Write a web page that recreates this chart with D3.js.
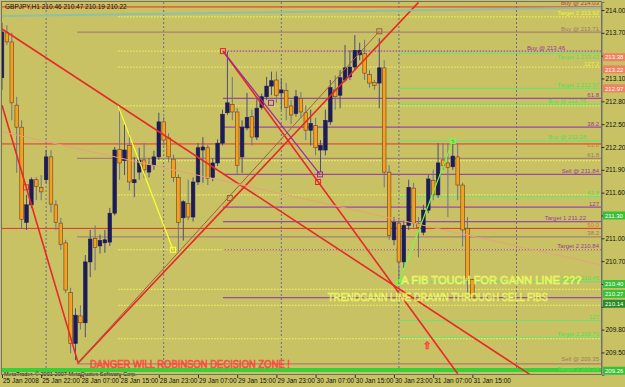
<!DOCTYPE html>
<html>
<head>
<meta charset="utf-8">
<script src="https://cdn.jsdelivr.net/npm/d3@7"></script>
<style>
  body { margin: 0; background: #c8c264; }
  svg text { font-family: "Liberation Sans", Arial, sans-serif; }
</style>
</head>
<body>
<div id="chart"></div>
<script>
var width = 625, height = 387;
var plot = {left: 2, right: 602, top: 2, bottom: 375};

// ---- candles (H1 bars, GBPJPY) ----
var opens  = [213.11,213.70,213.58,212.75,212.46,211.21,211.44,211.77,211.67,211.77,212.07,211.44,211.20,210.94,210.29,209.62,209.98,209.89,210.69,211.00,210.90,210.94,210.95,211.33,212.17,212.02,212.22,211.73,211.87,212.03,211.87,211.96,212.07,212.53,212.32,212.04,211.80,211.27,211.46,211.28,211.74,212.16,212.19,211.80,211.99,212.25,212.65,212.76,212.66,212.07,212.45,212.60,212.33,212.72,212.86,213.00,213.08,212.91,212.94,212.74,212.64,212.84,212.65,212.42,212.48,212.16,212.16,212.53,212.95,212.88,213.08,213.12,213.25,213.41,213.43,213.15,213.05,213.04,213.24,211.87,210.98,211.20,210.69,211.17,211.66,211.19,211.08,211.37,211.76,211.57,212.03,211.99,211.94,212.07,211.70,211.13,210.46];
var highs  = [213.83,213.80,213.70,212.86,212.55,211.57,211.80,211.80,211.83,212.16,212.16,211.50,211.27,210.98,210.35,210.08,210.12,210.78,211.11,211.17,211.05,211.11,211.40,212.20,212.72,212.49,212.38,212.07,212.19,212.25,212.05,212.15,212.65,212.59,212.38,212.10,211.84,211.50,211.77,211.80,212.25,212.33,212.23,212.05,212.30,212.69,213.45,213.12,212.71,212.55,212.91,212.69,212.86,212.90,213.12,213.19,213.19,213.10,213.04,212.82,212.95,212.92,212.75,212.69,212.58,212.29,212.69,213.08,213.14,213.21,213.54,213.47,213.67,213.57,213.61,213.21,213.08,213.63,213.34,211.96,211.28,211.27,211.24,211.77,211.73,211.28,211.44,211.83,211.90,212.25,212.25,212.25,212.29,212.25,211.73,211.28,210.47];
var lows   = [212.95,213.54,212.55,211.86,211.13,211.11,211.40,211.50,211.50,211.72,211.34,211.11,210.85,210.28,209.49,209.40,209.80,209.70,210.49,210.58,210.80,210.81,210.90,211.30,211.77,211.83,211.63,211.54,211.77,211.79,211.80,211.90,212.03,212.22,212.00,211.74,210.83,210.97,211.24,211.22,211.70,211.73,211.70,211.75,211.95,212.22,212.62,212.55,211.83,211.86,212.42,212.22,212.29,212.69,212.82,212.88,212.78,212.69,212.55,212.50,212.60,212.58,212.29,212.22,212.09,211.87,212.09,212.49,212.69,212.71,213.05,213.08,213.21,213.34,213.08,212.98,212.95,212.71,211.67,210.98,210.91,210.43,210.61,211.11,211.14,210.75,211.04,211.33,211.50,211.53,211.90,211.28,211.90,211.50,210.89,210.28,210.19];
var closes = [213.71,213.58,212.78,212.46,211.25,211.44,211.77,211.68,211.61,212.07,211.45,211.21,210.92,210.32,209.62,209.99,209.89,210.69,210.99,210.88,210.97,210.98,211.33,212.16,211.99,212.16,211.74,211.77,212.03,211.90,211.96,212.07,212.53,212.29,212.07,211.80,211.21,211.48,211.28,211.74,212.19,212.20,211.79,211.99,212.25,212.63,212.78,212.66,211.96,212.46,212.59,212.33,212.71,212.86,213.00,213.07,212.88,212.95,212.72,212.62,212.86,212.66,212.42,212.51,212.19,212.22,212.55,212.98,212.86,213.11,213.24,213.25,213.47,213.47,213.17,213.04,213.01,213.24,211.87,211.04,211.21,210.69,211.17,211.67,211.20,211.14,211.37,211.78,211.57,211.99,211.96,211.93,212.08,211.70,211.11,210.46,210.22];

// ---- axes ----
var priceTicks = [214.00,213.70,213.40,213.10,212.80,212.50,212.20,211.90,211.60,211.30,211.00,210.70,210.40,210.10,209.80,209.50];
var timeTickBars = [0,8,16,24,32,40,48,56,64,72,80,88,96];
var timeLabels = ["25 Jan 2008","25 Jan 22:00","28 Jan 07:00","28 Jan 15:00","28 Jan 23:00","29 Jan 07:00","29 Jan 15:00","29 Jan 23:00","30 Jan 07:00","30 Jan 15:00","30 Jan 23:00","31 Jan 07:00","31 Jan 15:00"];
var daySeparators = [9,33,57,81,105];

// ---- drawn objects ----
var redLevels = [214.04, 212.24, 211.13];
var yellowFib = [213.91,213.46,213.25,212.74,212.02,211.57,210.85,210.33,210.12,209.68];
var purpleFib = [213.46,212.84,212.46,211.84,211.41,211.22,210.85,210.22];
var brownFib  = [213.71,212.05,211.02,209.35];
var greenFib  = [213.43,212.97,212.76,212.28,211.55,210.43,209.92,209.70];
var fibStartBar = {yellow: 23.7, purple: 45.1, brown: 15.3, green: 81};

var trendLines = [
  {from: [0, 213.75], to: [108, 209.20], color: "#e82828", w: 1.6},
  {from: [0, 212.75], to: [15.5, 209.37], color: "#e82828", w: 1.6},
  {from: [15.5, 209.36], to: [85, 214.10], color: "#e82828", w: 1.6},
  {from: [45.1, 213.46], to: [93, 209.22], color: "#e82828", w: 1.6},
  {from: [15.3, 209.35], to: [77, 213.72], color: "#a0603a", w: 1},
  {from: [45.1, 213.46], to: [64.9, 211.84], color: "#9a2aa0", w: 1.2},
  {from: [23.7, 212.74], to: [34.9, 210.85], color: "#ffff30", w: 1.2},
  {from: [81, 210.42], to: [92, 212.28], color: "#70ff40", w: 1.2},
  {from: [0, 213.92], to: [122.4, 214.03], color: "#8cc0a8", w: 2},
  {from: [0, 212.40], to: [122.4, 210.65], color: "#e8a080", w: 1}
];
var anchorBars   = [4.9, 46.5, 77, 64.5, 45.1, 54.9, 64.9, 34.9, 81, 92];
var anchorPrices = [211.67, 211.53, 213.72, 211.74, 213.46, 212.78, 211.84, 210.85, 210.42, 212.28];
var anchorColors = ["#e82828","#a0603a","#a0603a","#e82828","#e82828","#9a2aa0","#9a2aa0","#ffff30","#70ff40","#70ff40"];

var levelLabelPrices = [214.04,213.91,213.71,213.46,213.43,213.25,212.97,212.84,212.76,212.46,212.28,212.24,212.05,211.84,211.55,211.41,211.22,211.13,211.02,210.85,210.43,209.92,209.70,209.35,209.27];
var levelLabelTexts  = ["Buy @ 214.03","Target 2  213.92","Buy @ 213.71","Buy @ 213.46","Target 1  213.43","127.2","Target 3  212.97","61.8","Buy @ 212.76","38.2","Buy @ 212.28","61.8","61.8","Sell @ 211.84","61.8","127","Target 1  211.22","50.0","38.2","Target 2  210.84","Sell @ 210.45","127","Target 2  209.70","Sell @ 209.35","Target 3  209.28"];
var levelLabelColors = ["#c03838","#f0f040","#a07868","#9a3a9a","#50e050","#f0f040","#50e050","#9a3a9a","#50e050","#9a3a9a","#50e050","#e07030","#a07868","#9a3a9a","#50e050","#9a3a9a","#9a3a9a","#e07030","#a07868","#9a3a9a","#50e050","#50e050","#50e050","#a07868","#50e050"];
var levelLabelDx = [0,0,0,-34,0,0,0,0,-13,0,-13,0,0,0,0,0,-13,0,0,0,0,0,0,0,0];
var levelLabelDy = [-1.5,-1.5,-1.5,-1.5,5.5,-1.5,-1.5,-1.5,-1.5,-1.5,-1.5,3,-1.5,-1.5,-1.5,-1.5,-1.5,-1.5,-1.5,-1.5,-1.5,-1.5,-1.5,-2.5,1.5];

var boxPrices = [213.38, 213.22, 212.97, 211.30, 210.40, 210.27, 210.14, 209.26];
var boxColors = ["#f08060","#f08060","#f08060","#38c038","#38c038","#38c038","#2a8a2a","#38c038"];

// ---- scales ----
var x = d3.scaleLinear().domain([0, 122.45]).range([plot.left, plot.right]);
var y = d3.scaleLinear().domain([209.204, 214.105]).range([plot.bottom, plot.top]);

var svg = d3.select("#chart").append("svg")
    .attr("width", width).attr("height", height);

svg.append("rect").attr("width", width).attr("height", height).attr("fill", "#c8c264");

svg.append("clipPath").attr("id", "clip")
  .append("rect")
    .attr("x", plot.left).attr("y", plot.top)
    .attr("width", plot.right - plot.left).attr("height", plot.bottom - plot.top);

var g = svg.append("g").attr("clip-path", "url(#clip)");

// day separators
g.selectAll(".sep").data(daySeparators).enter().append("line")
    .attr("x1", function (d) { return x(d); }).attr("x2", function (d) { return x(d); })
    .attr("y1", plot.top).attr("y2", plot.bottom)
    .attr("stroke", "#6a6a96").attr("stroke-dasharray", "2,2");

// horizontal levels
function levels(prices, startBar, color, dash, w) {
    g.append("g").selectAll("line").data(prices).enter().append("line")
        .attr("x1", x(startBar)).attr("x2", plot.right)
        .attr("y1", function (d) { return y(d); }).attr("y2", function (d) { return y(d); })
        .attr("stroke", color).attr("stroke-width", w || 1)
        .attr("stroke-dasharray", dash || null);
}
levels(brownFib, fibStartBar.brown, "#a88070", null, 1.2);
levels(purpleFib, fibStartBar.purple, "#9a4aa0", null, 1.2);
levels(greenFib, fibStartBar.green, "#70e070", null, 1.2);
levels(yellowFib, fibStartBar.yellow, "#f8f860", "1.5,1.5", 1);
levels(redLevels, 0, "#e83030", null, 1);

// bottom band
g.append("line")
    .attr("x1", plot.left).attr("x2", plot.right)
    .attr("y1", y(209.27)).attr("y2", y(209.27))
    .attr("stroke", "#38d038").attr("stroke-width", 4);

// candles
var idx = d3.range(opens.length);
g.selectAll(".wick").data(idx).enter().append("line")
    .attr("x1", function (i) { return x(i); }).attr("x2", function (i) { return x(i); })
    .attr("y1", function (i) { return y(highs[i]); }).attr("y2", function (i) { return y(lows[i]); })
    .attr("stroke", function (i) { return closes[i] >= opens[i] ? "#4c4c80" : "#707090"; })
    .attr("stroke-width", 1);
g.selectAll(".body").data(idx).enter().append("rect")
    .attr("x", function (i) { return x(i) - 1.8; })
    .attr("width", 3.6)
    .attr("y", function (i) { return y(Math.max(opens[i], closes[i])); })
    .attr("height", function (i) { return Math.max(1, Math.abs(y(opens[i]) - y(closes[i]))); })
    .attr("fill", function (i) { return closes[i] >= opens[i] ? "#1c1c58" : "#f4a020"; })
    .attr("stroke", function (i) { return closes[i] >= opens[i] ? "#1c1c58" : "#6a4020"; })
    .attr("stroke-width", 0.6);

// trend lines
g.selectAll(".tl").data(trendLines).enter().append("line")
    .attr("x1", function (d) { return x(d.from[0]); }).attr("y1", function (d) { return y(d.from[1]); })
    .attr("x2", function (d) { return x(d.to[0]); }).attr("y2", function (d) { return y(d.to[1]); })
    .attr("stroke", function (d) { return d.color; })
    .attr("stroke-width", function (d) { return d.w; });

g.selectAll(".anchor").data(d3.range(anchorBars.length)).enter().append("rect")
    .attr("x", function (i) { return x(anchorBars[i]) - 2.5; })
    .attr("y", function (i) { return y(anchorPrices[i]) - 2.5; })
    .attr("width", 5).attr("height", 5)
    .attr("fill", "none")
    .attr("stroke", function (i) { return anchorColors[i]; });

// level labels
g.selectAll(".lbl").data(d3.range(levelLabelPrices.length)).enter().append("text")
    .attr("x", function (i) { return plot.right - 3 + levelLabelDx[i]; })
    .attr("y", function (i) { return y(levelLabelPrices[i]) + levelLabelDy[i]; })
    .attr("text-anchor", "end")
    .attr("font-size", 6)
    .attr("fill", function (i) { return levelLabelColors[i]; })
    .text(function (i) { return levelLabelTexts[i]; });

// annotation texts
g.append("text")
    .attr("x", x(81.5)).attr("y", y(210.40))
    .attr("font-size", 10).attr("fill", "none")
    .attr("stroke", "#f0ff60").attr("stroke-width", 0.6)
    .attr("textLength", 180).attr("lengthAdjust", "spacingAndGlyphs")
    .text("A FIB TOUCH FOR GANN LINE 2??");
g.append("text")
    .attr("x", x(66.5)).attr("y", y(210.18))
    .attr("font-size", 10).attr("fill", "none")
    .attr("stroke", "#f0ff60").attr("stroke-width", 0.6)
    .attr("textLength", 220).attr("lengthAdjust", "spacingAndGlyphs")
    .text("TRENDGANN LINE DRAWN THROUGH SELL FIBS");
g.append("text")
    .attr("x", 90).attr("y", 367.5)
    .attr("font-size", 10.5).attr("fill", "none")
    .attr("stroke", "#ff4040").attr("stroke-width", 0.7)
    .attr("textLength", 200).attr("lengthAdjust", "spacingAndGlyphs")
    .text("DANGER WILL ROBINSON DECISION ZONE !");
g.append("text")
    .attr("x", x(86)).attr("y", y(209.55))
    .attr("font-size", 10).attr("fill", "none")
    .attr("stroke", "#ff4040").attr("stroke-width", 0.7)
    .text("\u21E7");

// header + copyright
svg.append("text").attr("x", 5).attr("y", 9).attr("font-size", 6.5).attr("fill", "#101010")
    .text("GBPJPY,H1  210.46 210.47 210.19 210.22");
svg.append("text").attr("x", 4).attr("y", 375.5).attr("font-size", 5.5).attr("fill", "#101010")
    .text("MetaTrader, \u00A9 2001-2007 MetaQuotes Software Corp.");

// frame
svg.append("rect")
    .attr("x", plot.left - 0.5).attr("y", plot.top - 0.5)
    .attr("width", plot.right - plot.left).attr("height", plot.bottom - plot.top)
    .attr("fill", "none").attr("stroke", "#707070");

// price axis (labels hidden where a price box covers them)
var shownTicks = priceTicks.filter(function (t) {
    return boxPrices.every(function (b) { return Math.abs(y(b) - y(t)) > 7; });
});
var yAxis = d3.axisRight(y).tickValues(priceTicks).tickSize(3)
    .tickFormat(function (d) { return shownTicks.indexOf(d) >= 0 ? d3.format(".2f")(d) : ""; });
var ya = svg.append("g").attr("transform", "translate(" + (plot.right - 0.5) + ",0)").call(yAxis);
ya.select(".domain").attr("stroke", "#707070");
ya.selectAll("text").attr("font-size", 6.5).attr("fill", "#101010").attr("x", 4);
ya.selectAll("line").attr("stroke", "#303030");

// price boxes
var bx = svg.append("g").selectAll("g").data(d3.range(boxPrices.length)).enter().append("g");
bx.append("rect")
    .attr("x", plot.right + 1).attr("y", function (i) { return y(boxPrices[i]) - 4; })
    .attr("width", 22).attr("height", 8)
    .attr("fill", function (i) { return boxColors[i]; });
bx.append("text")
    .attr("x", plot.right + 3).attr("y", function (i) { return y(boxPrices[i]) + 2.3; })
    .attr("font-size", 6).attr("fill", "#ffffff")
    .text(function (i) { return boxPrices[i].toFixed(2); });

// time axis
var tx = svg.append("g");
tx.selectAll("line").data(timeTickBars).enter().append("line")
    .attr("x1", function (d) { return x(d) + 0.5; }).attr("x2", function (d) { return x(d) + 0.5; })
    .attr("y1", plot.bottom).attr("y2", plot.bottom + 3)
    .attr("stroke", "#303030");
tx.selectAll("text").data(timeTickBars).enter().append("text")
    .attr("x", function (d) { return x(d) + 1; })
    .attr("y", 383)
    .attr("font-size", 6.5).attr("fill", "#101010")
    .text(function (d, i) { return timeLabels[i]; });
</script>
</body>
</html>
